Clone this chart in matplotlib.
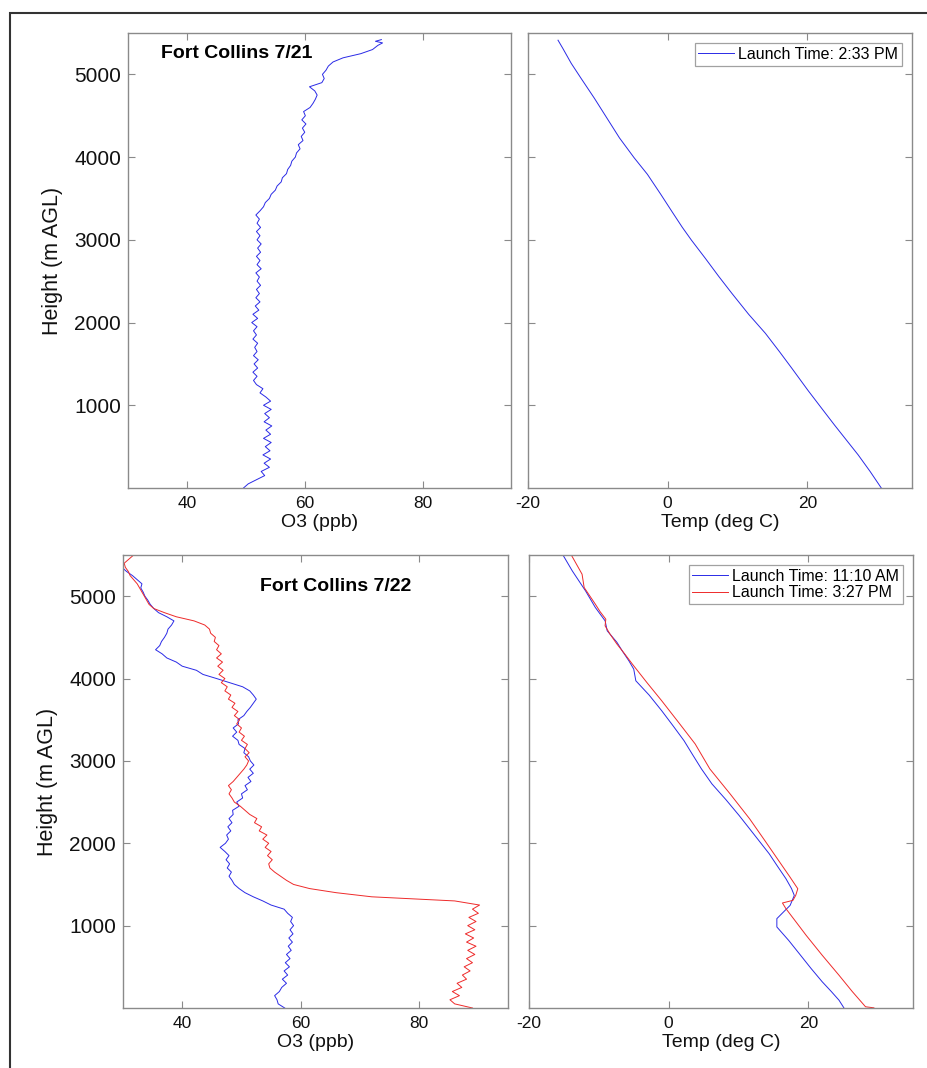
import matplotlib
matplotlib.use("Agg")
import matplotlib.pyplot as plt
from matplotlib.patches import Rectangle

plt.rcParams['font.family'] = ['Liberation Sans', 'DejaVu Sans']
plt.rcParams['axes.unicode_minus'] = False

# ---------------- DATA ----------------
# Fort Collins 7/21 ozone profile (ppb) vs height (m AGL)
h_o3_721 = [0, 50, 100, 150, 200, 250, 300, 350, 400, 450, 500, 550, 600, 650, 700, 750,
            800, 850, 900, 950, 1000, 1050, 1100, 1150, 1200, 1250, 1300, 1350, 1400, 1450,
            1500, 1550, 1600, 1650, 1700, 1750, 1800, 1850, 1900, 1950, 2000, 2050, 2100,
            2150, 2200, 2250, 2300, 2350, 2400, 2450, 2500, 2550, 2600, 2650, 2700, 2750,
            2800, 2850, 2900, 2950, 3000, 3050, 3100, 3150, 3200, 3250, 3300, 3350, 3400,
            3450, 3500, 3550, 3600, 3650, 3700, 3750, 3800, 3850, 3900, 3950, 4000, 4050,
            4100, 4150, 4200, 4250, 4300, 4350, 4400, 4450, 4500, 4550, 4600, 4650, 4700,
            4750, 4800, 4850, 4900, 4950, 5000, 5050, 5100, 5150, 5200, 5250, 5300, 5350,
            5380, 5400, 5420]
o3_721 = [49.6, 50.4, 51.8, 53.2, 52.6, 54.0, 53.1, 54.2, 52.9, 54.1, 53.3, 54.3, 53.0, 54.2,
          53.4, 54.4, 53.1, 54.0, 53.2, 54.3, 53.0, 54.2, 53.4, 52.4, 52.9, 51.8, 51.3, 51.9,
          51.2, 52.0, 51.4, 52.1, 51.3, 51.9, 51.5, 52.0, 51.2, 51.8, 51.3, 51.9, 51.0, 52.0,
          51.2, 52.2, 51.6, 52.4, 51.7, 52.3, 51.8, 52.5, 51.9, 52.3, 51.7, 52.6, 51.9, 52.4,
          51.8, 52.5, 52.0, 52.6, 51.9, 52.4, 51.8, 52.5, 51.9, 52.3, 51.7, 52.4, 53.0, 53.3,
          54.0, 54.3, 55.0, 55.3, 56.0, 56.2, 56.9, 57.1, 57.6, 57.8, 58.4, 58.6, 59.2, 58.9,
          59.7, 59.4, 60.0, 59.6, 60.2, 59.5, 60.1, 59.8, 60.9, 61.4, 61.8, 62.1, 61.7, 60.8,
          62.9, 63.3, 63.0, 63.6, 64.0, 64.8, 66.5, 69.5, 71.5, 72.4, 73.2, 72.0, 73.0]

# Fort Collins 7/21 temperature profile (deg C)
h_t_721 = [0, 200, 399, 580, 761, 970, 1180, 1446, 1650, 1870, 2100, 2353, 2560, 2776,
           2997, 3151, 3331, 3552, 3792, 3992, 4232, 4472, 4712, 4952, 5132, 5312, 5413]
t_721 = [30.6, 29.0, 27.3, 25.6, 23.9, 22.0, 20.1, 17.8, 16.0, 14.0, 11.6, 9.2, 7.3, 5.4,
         3.4, 2.1, 0.7, -1.0, -2.9, -4.8, -6.9, -8.7, -10.5, -12.4, -13.8, -15.0, -15.7]

# Fort Collins 7/22 ozone profiles
h_o3_722a = [0, 50, 100, 150, 200, 250, 300, 350, 400, 450, 500, 550, 600, 650, 700, 750,
             800, 850, 900, 950, 1000, 1050, 1100, 1150, 1200, 1250, 1300, 1350, 1400, 1450,
             1500, 1550, 1600, 1650, 1700, 1750, 1800, 1850, 1900, 1950, 2000, 2050, 2100,
             2150, 2200, 2250, 2300, 2350, 2400, 2450, 2500, 2550, 2600, 2650, 2700, 2750,
             2800, 2850, 2900, 2950, 3000, 3050, 3100, 3150, 3200, 3250, 3300, 3350, 3400,
             3450, 3500, 3550, 3600, 3650, 3700, 3750, 3800, 3850, 3900, 3950, 4000, 4050,
             4100, 4150, 4200, 4250, 4300, 4350, 4400, 4450, 4500, 4550, 4600, 4650, 4700,
             4750, 4800, 4850, 4900, 4950, 5000, 5050, 5100, 5150, 5200, 5250, 5300, 5350]
o3_722a = [57.3, 56.2, 56.0, 55.6, 56.4, 56.8, 57.6, 56.9, 57.8, 57.2, 58.1, 57.4, 58.2, 57.6,
           58.4, 57.9, 58.6, 58.0, 58.7, 58.2, 58.8, 58.3, 58.6, 57.8, 57.2, 55.0, 53.6, 52.0,
           50.6, 49.6, 48.8, 48.4, 47.9, 48.3, 47.6, 48.0, 47.4, 47.9, 47.2, 46.4, 47.3, 47.8,
           47.5, 48.2, 47.7, 48.4, 47.9, 48.6, 48.5, 49.6, 49.2, 50.2, 50.0, 51.0, 50.6, 51.6,
           51.1, 52.0, 51.4, 52.1, 51.5, 51.2, 50.4, 50.6, 49.6, 49.4, 48.5, 49.2, 48.6, 49.5,
           49.4, 50.4, 50.9, 51.5, 52.0, 52.5, 52.0, 51.4, 50.2, 48.0, 45.8, 43.5, 42.4, 40.0,
           39.0, 37.4, 36.6, 35.5, 36.2, 36.5, 37.0, 37.4, 37.6, 38.2, 38.6, 37.4, 36.0, 35.2,
           34.6, 34.2, 33.7, 33.4, 33.0, 33.2, 32.4, 31.6, 30.6, 29.8]

h_o3_722b = [0, 50, 100, 150, 200, 250, 300, 350, 400, 450, 500, 550, 600, 650, 700, 750,
             800, 850, 900, 950, 1000, 1050, 1100, 1150, 1200, 1250, 1300, 1350, 1400, 1450,
             1500, 1550, 1600, 1650, 1700, 1750, 1800, 1850, 1900, 1950, 2000, 2050, 2100,
             2150, 2200, 2250, 2300, 2350, 2400, 2450, 2500, 2550, 2600, 2650, 2700, 2750,
             2800, 2850, 2900, 2950, 3000, 3050, 3100, 3150, 3200, 3250, 3300, 3350, 3400,
             3450, 3500, 3550, 3600, 3650, 3700, 3750, 3800, 3850, 3900, 3950, 4000, 4050,
             4100, 4150, 4200, 4250, 4300, 4350, 4400, 4450, 4500, 4550, 4600, 4650, 4700,
             4750, 4800, 4850, 4900, 4950, 5000, 5050, 5100, 5150, 5200, 5250, 5300, 5350,
             5400, 5450, 5500]
o3_722b = [89.0, 86.0, 85.2, 86.8, 85.6, 87.2, 86.4, 88.0, 87.3, 88.6, 87.6, 89.0, 88.0, 89.4,
           88.2, 89.6, 88.0, 89.2, 87.8, 89.4, 88.2, 89.6, 88.4, 90.0, 89.0, 90.2, 86.0, 72.0,
           66.0, 61.5, 58.8, 57.6, 56.6, 55.6, 54.8, 54.6, 55.2, 54.4, 55.0, 54.0, 54.6, 53.6,
           54.3, 53.0, 53.4, 52.2, 52.6, 51.4, 50.6, 49.8, 48.8, 48.4, 47.9, 48.3, 47.8, 48.6,
           49.2, 49.8, 50.4, 50.9, 51.2, 50.6, 51.3, 50.6, 51.0, 50.0, 50.5, 49.6, 50.0, 49.2,
           49.7, 48.8, 49.4, 48.4, 48.9, 47.8, 48.2, 47.2, 47.6, 46.6, 47.2, 46.2, 46.9, 46.0,
           46.8, 45.8, 46.6, 45.8, 46.2, 45.4, 45.6, 44.8, 44.6, 43.8, 42.0, 39.0, 37.0, 35.2,
           34.4, 34.0, 33.6, 33.2, 32.8, 32.4, 31.8, 31.2, 30.9, 30.4, 30.2, 31.0, 31.8]

# Fort Collins 7/22 temperature profiles
h_t_722a = [2, 95, 200, 318, 480, 661, 820, 984, 1085, 1170, 1246, 1367, 1450, 1570, 1720,
            1873, 2100, 2337, 2530, 2721, 2903, 3080, 3246, 3430, 3610, 3800, 3973, 4115,
            4216, 4330, 4439, 4580, 4701, 4863, 5064, 5307, 5509]
t_722a = [25.1, 24.4, 23.3, 22.0, 20.4, 18.7, 17.2, 15.5, 15.5, 16.5, 17.4, 18.0, 17.6, 16.8,
          15.6, 14.4, 12.3, 10.1, 8.2, 6.2, 4.7, 3.4, 2.2, 0.6, -1.0, -2.8, -4.7, -5.0,
          -5.7, -6.6, -7.4, -8.8, -9.1, -10.5, -11.9, -13.8, -15.2]
h_t_722b = [2, 15, 200, 398, 640, 882, 1050, 1206, 1275, 1307, 1367, 1448, 1600, 1772,
            2030, 2297, 2600, 2903, 3206, 3470, 3731, 3950, 4176, 4300, 4418, 4540, 4640,
            4721, 4810, 4903, 5105, 5267, 5509]
t_722b = [29.4, 28.2, 26.3, 24.4, 22.0, 19.7, 18.2, 16.8, 16.3, 17.8, 18.2, 18.5, 17.3, 15.9,
          13.8, 11.6, 8.8, 5.9, 3.8, 1.4, -1.0, -3.1, -5.2, -6.3, -7.4, -8.4, -9.1,
          -9.0, -9.8, -10.5, -12.1, -12.4, -14.0]

o3_xticks = [40, 60, 80]
t_xticks = [-20, 0, 20]
h_ticks = [1000, 2000, 3000, 4000, 5000]

# ---------------- FIGURE ----------------
W, H = 927, 1068
fig = plt.figure(figsize=(W / 100, H / 100), dpi=100)

def ax_at(l, t, r, b):
    return fig.add_axes([l / W, (H - b) / H, (r - l) / W, (b - t) / H])

ax_tl = ax_at(128, 33, 511, 488)
ax_tr = ax_at(528, 33, 912, 488)
ax_bl = ax_at(123, 555, 508, 1008)
ax_br = ax_at(529, 555, 913, 1008)

spine_col = '#8a8a8a'
lw = 0.7
blue = '#2a2ae6'
red = '#ee2a2a'

def style(ax, xlim, xticks, xlabel, ylabels):
    ax.set_xlim(*xlim)
    ax.set_ylim(0, 5500)
    ax.set_xticks(xticks)
    ax.set_yticks(h_ticks)
    for s in ax.spines.values():
        s.set_color(spine_col)
        s.set_linewidth(1.0)
    ax.tick_params(direction='in', length=5, width=0.8, color=spine_col,
                   top=True, right=True, labelcolor='#111111')
    ax.tick_params(axis='x', labelsize=12.5, pad=6)
    ax.tick_params(axis='y', labelsize=15, pad=5)
    ax.set_xlabel(xlabel, fontsize=14, color='#111111', labelpad=2)
    if ylabels:
        ax.set_ylabel('Height (m AGL)', fontsize=15.5, color='#111111', labelpad=8)
    else:
        ax.set_yticklabels([])

def add_legend(ax):
    leg = ax.legend(loc='upper right', fontsize=11.5, frameon=True, fancybox=False,
                    handlelength=2.2, handletextpad=0.3, borderpad=0.25,
                    borderaxespad=0.6, labelspacing=0.1)
    leg.get_frame().set_edgecolor(spine_col)
    leg.get_frame().set_linewidth(0.9)

# Top-left
ax_tl.plot(o3_721, h_o3_721, color=blue, lw=lw)
style(ax_tl, (30, 95), o3_xticks, 'O3 (ppb)', True)
ax_tl.text(0.085, 0.955, 'Fort Collins 7/21', transform=ax_tl.transAxes,
           fontsize=14, fontweight='bold', va='center', ha='left')

# Top-right
ax_tr.plot(t_721, h_t_721, color=blue, lw=lw, label='Launch Time: 2:33 PM')
style(ax_tr, (-20, 35), t_xticks, 'Temp (deg C)', False)
add_legend(ax_tr)

# Bottom-left
ax_bl.plot(o3_722a, h_o3_722a, color=blue, lw=lw)
ax_bl.plot(o3_722b, h_o3_722b, color=red, lw=lw)
style(ax_bl, (30, 95), o3_xticks, 'O3 (ppb)', True)
ax_bl.text(0.355, 0.93, 'Fort Collins 7/22', transform=ax_bl.transAxes,
           fontsize=14, fontweight='bold', va='center', ha='left')

# Bottom-right
ax_br.plot(t_722a, h_t_722a, color=blue, lw=lw, label='Launch Time: 11:10 AM')
ax_br.plot(t_722b, h_t_722b, color=red, lw=lw, label='Launch Time: 3:27 PM')
style(ax_br, (-20, 35), t_xticks, 'Temp (deg C)', False)
add_legend(ax_br)

# outer frame (cut off at right and bottom)
fig.patches.append(Rectangle((10 / W, -0.1), 1.2, (H - 13) / H + 0.1,
                             transform=fig.transFigure, fill=False,
                             edgecolor='#333333', linewidth=1.5))

fig.savefig('out.png', dpi=100)
